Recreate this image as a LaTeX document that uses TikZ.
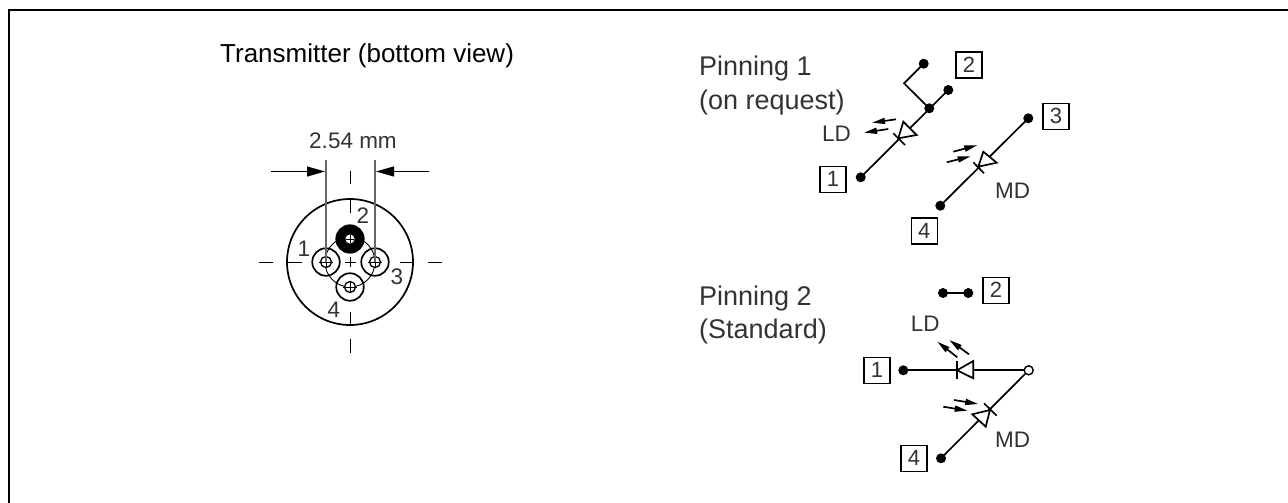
\documentclass[tikz,border=0pt]{standalone}
\usepackage{fontspec}
\setmainfont{Liberation Sans}
\usetikzlibrary{arrows.meta}
\definecolor{txt}{gray}{0.2}
\tikzset{
  x=1pt,y=-1pt,
  wire/.style={line width=1.7pt,black,line cap=round},
  thin line/.style={line width=0.9pt,black},
  centre/.style={line width=1pt,black},
  plate/.style={line width=1.7pt,black,fill=white,line join=miter},
  pin/.style={circle,draw=black,line width=1.7pt,minimum size=27.5pt,inner sep=0pt,fill=none},
  hole/.style={circle,draw=black,line width=1.3pt,minimum size=11pt,inner sep=0pt,fill=white},
  dot/.style={circle,fill=black,draw=none,minimum size=10pt,inner sep=0pt},
  opendot/.style={circle,fill=white,draw=black,line width=1.4pt,minimum size=9pt,inner sep=0pt},
  pinbox/.style={rectangle,draw=black,line width=1.5pt,minimum size=26pt,inner sep=0pt,text=txt,font=\fontsize{22}{22}\selectfont},
  lbl/.style={inner sep=0pt,text=txt,font=\fontsize{22.5}{22.5}\selectfont},
  lblbig/.style={inner sep=0pt,text=txt,anchor=base west,font=\fontsize{27}{27}\selectfont},
  light/.style={wire,-{Triangle[length=13pt,width=6pt]},line cap=butt},
  dim/.style={line width=1.3pt,black,-{Triangle[length=18pt,width=10pt]}},
  ext/.style={line width=1.2pt,black!60},
}
\begin{document}
\begin{tikzpicture}
\useasboundingbox (0,0) rectangle (1288,503);
\fill[white] (0,0) rectangle (1288,503);
% frame
\draw[line width=2pt,black,line join=miter] (9,503) -- (9,10) -- (1288,10);
% left title
\node[inner sep=0pt,anchor=base west,font=\fontsize{26}{26}\selectfont] (title) at (220,63) {Transmitter (bottom view)};
\node[lbl,anchor=base] (dimtext) at (353,148) {2.54 mm};
% header
\coordinate (C) at (350,262);
\node[circle,draw=black,line width=1.7pt,minimum size=126pt,inner sep=0pt] (body) at (C) {};
\node[circle,draw=black,line width=0.9pt,minimum size=50pt,inner sep=0pt] (bolt) at (C) {};
% pins
\node[pin] (p1) at (326,262) {};
\node[pin] (p3) at (375,262) {};
\node[pin] (p4) at (350,287) {};
\node[pin,fill=black] (p2) at (350,239) {};
\node[hole] (h1) at (p1) {};
\node[hole] (h3) at (p3) {};
\node[hole] (h4) at (p4) {};
\node[hole,draw=none,minimum size=9pt] (h2) at (p2) {};
\draw[thin line] (326,256) -- (326,268) (319,262) -- (333,262);
\draw[thin line] (375,256) -- (375,268) (368,262) -- (382,262);
\draw[thin line] (350,281) -- (350,293) (343,287) -- (357,287);
\draw[thin line] (350,235) -- (350,243) (346,239) -- (354,239);
% centre lines
\draw[centre] (259,262) -- (273,262) (288,262) -- (302,262) (345,262) -- (356,262) (400,262) -- (413,262) (428,262) -- (442,262);
\draw[centre] (350,171) -- (350,184) (350,199) -- (350,213) (350,257) -- (350,267) (350,312) -- (350,325) (350,339) -- (350,353);
% dimension
\coordinate (e1) at (326,160);
\coordinate (e3) at (375,160);
\coordinate (a1) at (271,171.5);
\coordinate (a1e) at (325,171.5);
\coordinate (a3) at (429,171.5);
\coordinate (a3e) at (376,171.5);
\draw[ext] (e1) -- (p1.center);
\draw[ext] (e3) -- (p3.center);
\draw[dim] (a1) -- (a1e);
\draw[dim] (a3) -- (a3e);
% pin numbers
\node[lbl,anchor=base] (n2) at (363,223) {2};
\node[lbl,anchor=base] (n1) at (304,256) {1};
\node[lbl,anchor=base] (n3) at (397,284) {3};
\node[lbl,anchor=base] (n4) at (334,317) {4};
% Pinning 1
\node[lblbig] (pa) at (699,76) {Pinning 1};
\node[lblbig] (pb) at (699,110) {(on request)};
\node[dot] (A2) at (923.7,63.7) {};
\coordinate (Ael) at (904,83.3);
\node[dot] (Aj) at (929.3,108.3) {};
\node[dot] (A2b) at (948.3,90) {};
\node[dot] (A1) at (860.7,177.3) {};
\node[dot] (A3) at (1028.3,118.3) {};
\node[dot] (A4) at (940.3,205.7) {};
\draw[wire,line join=miter] (A2.center) -- (Ael) -- (Aj.center);
\draw[wire] (A2b.center) -- (A1.center);
\draw[wire] (A3.center) -- (A4.center);
\draw[plate] (903.3,121.7) -- (916.7,135) -- (898.3,138.3) -- cycle;
\draw[wire,line cap=butt] (893.3,133.3) -- (905,145);
\draw[plate] (983.3,151.7) -- (996.7,162.7) -- (978.3,166.7) -- cycle;
\draw[wire,line cap=butt] (973.3,162.3) -- (984,173.3);
\draw[light] (896,119.3) -- (872,122.7);
\draw[light] (888.3,129) -- (864,132.7);
\draw[light] (953.3,151.7) -- (977.3,145.3);
\draw[light] (946.7,162.3) -- (970.7,156.3);
\node[pinbox] (bA2) at (969,65) {2};
\node[pinbox] (bA3) at (1056,116.3) {3};
\node[pinbox] (bA1) at (833,179.3) {1};
\node[pinbox] (bA4) at (924.3,231) {4};
\node[lbl,anchor=base west] (LDa) at (822,141.7) {LD};
\node[lbl,anchor=base west] (MDa) at (995,198) {MD};
% Pinning 2
\node[lblbig] (pc) at (699,305) {Pinning 2};
\node[lblbig] (pd) at (699,338) {(Standard)};
\node[dot] (B2a) at (943,293) {};
\node[dot] (B2b) at (968.3,293) {};
\node[dot] (B1) at (903.3,370.3) {};
\node[dot] (B4) at (941,458.3) {};
\node[opendot] (B3) at (1028.7,370.3) {};
\draw[wire] (B2a.center) -- (B2b.center);
\draw[wire] (B1.center) -- (B3);
\draw[wire] (B3) -- (B4.center);
\draw[plate] (957,370.3) -- (973.3,361) -- (973.3,378.3) -- cycle;
\draw[wire,line cap=butt] (957,360.7) -- (957,378.8);
\draw[plate] (990,410) -- (985.7,426.7) -- (972.3,414.3) -- cycle;
\draw[wire,line cap=butt] (984,403.3) -- (996.7,415.7);
\draw[light] (969,354.3) -- (949.3,340);
\draw[light] (957.3,357.3) -- (937.3,341.7);
\draw[light] (954,400) -- (978.3,404);
\draw[light] (943.3,406.7) -- (967.7,410.7);
\node[pinbox] (bB2) at (996,290.3) {2};
\node[pinbox] (bB1) at (877,370.3) {1};
\node[pinbox] (bB4) at (914,458.3) {4};
\node[lbl,anchor=base west] (LDb) at (910.7,331.7) {LD};
\node[lbl,anchor=base west] (MDb) at (995,447.7) {MD};
\end{tikzpicture}
\end{document}
